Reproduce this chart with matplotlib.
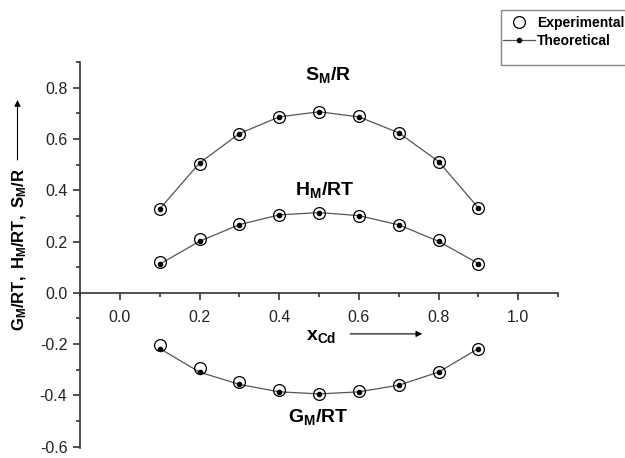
# Funciones de exceso molar frente a fracción molar de Cd
import matplotlib
matplotlib.use('Agg')
import matplotlib.pyplot as plt
from matplotlib.patches import Rectangle
from matplotlib.ticker import MultipleLocator

x_cd = [0.1, 0.2, 0.3, 0.4, 0.5, 0.6, 0.7, 0.8, 0.9]

# S_M/R
s_exp = [0.327, 0.503, 0.619, 0.684, 0.704, 0.689, 0.624, 0.510, 0.331]
s_teo = [0.327, 0.506, 0.621, 0.686, 0.706, 0.686, 0.624, 0.512, 0.331]
# H_M/RT
h_exp = [0.119, 0.210, 0.268, 0.304, 0.313, 0.301, 0.263, 0.207, 0.114]
h_teo = [0.112, 0.201, 0.266, 0.304, 0.313, 0.301, 0.265, 0.201, 0.114]
# G_M/RT
g_exp = [-0.204, -0.292, -0.348, -0.379, -0.394, -0.384, -0.360, -0.309, -0.218]
g_teo = [-0.217, -0.309, -0.357, -0.386, -0.394, -0.386, -0.360, -0.309, -0.217]

plt.rcParams['font.family'] = ['Liberation Sans', 'DejaVu Sans']
plt.rcParams['mathtext.fontset'] = 'custom'
plt.rcParams['mathtext.rm'] = 'Liberation Sans'
plt.rcParams['mathtext.it'] = 'Liberation Sans:italic'
plt.rcParams['mathtext.bf'] = 'Liberation Sans:bold'
plt.rcParams['axes.unicode_minus'] = False

fig = plt.figure(figsize=(6.25, 4.58), dpi=100)
ax = fig.add_axes([0.128, 0.0218, 0.765, 0.8428])

linea = '#555555'
for teo, exp in [(s_teo, s_exp), (h_teo, h_exp), (g_teo, g_exp)]:
    ax.plot(x_cd, teo, color=linea, lw=0.9, marker='o', ms=3,
            mfc='black', mec='black', zorder=3)
    ax.plot(x_cd, exp, ls='none', marker='o', ms=8.5, mfc='none',
            mec='black', mew=0.9, zorder=4)

ax.set_xlim(-0.1, 1.1)
ax.set_ylim(-0.605, 0.9)
ax.spines['top'].set_visible(False)
ax.spines['right'].set_visible(False)
ax.spines['bottom'].set_position(('data', 0))
for s in ['left', 'bottom']:
    ax.spines[s].set_linewidth(1.2)
    ax.spines[s].set_color('#333333')

ax.xaxis.set_minor_locator(MultipleLocator(0.1))
ax.yaxis.set_minor_locator(MultipleLocator(0.1))
ax.set_xticks([0.0, 0.2, 0.4, 0.6, 0.8, 1.0])
ax.set_xticklabels(['0.0', '0.2', '0.4', '0.6', '0.8', '1.0'])
ax.set_yticks([-0.6, -0.4, -0.2, 0.0, 0.2, 0.4, 0.6, 0.8])
ax.set_yticklabels(['-0.6', '-0.4', '-0.2', '0.0', '0.2', '0.4', '0.6', '0.8'])
ax.tick_params(which='major', length=5, width=1.2, color='#333333',
               labelsize=11.5, labelcolor='#222222')
ax.tick_params(which='minor', length=3, width=1.2, color='#333333')
ax.tick_params(axis='x', which='major', pad=7)
ax.tick_params(axis='y', which='major', pad=4)

# Etiquetas de cada curva
ax.text(0.523, 0.85, r'$\mathbf{S_M/R}$', fontsize=14, ha='center', va='center')
ax.text(0.514, 0.40, r'$\mathbf{H_M/RT}$', fontsize=14, ha='center', va='center')
ax.text(0.497, -0.485, r'$\mathbf{G_M/RT}$', fontsize=14, ha='center', va='center')

# Eje x con flecha
ax.text(0.506, -0.172, r'$\mathbf{x_{Cd}}$', fontsize=14, ha='center', va='center')
ax.annotate('', xy=(0.759, -0.16), xytext=(0.578, -0.16),
            arrowprops=dict(arrowstyle='-|>', color='black', lw=0.8,
                            mutation_scale=9, shrinkA=0, shrinkB=0))

# Eje y con flecha
fig.text(0.031, 0.455, r'$\mathbf{G_M/RT,\ H_M/RT,\ S_M/R}$', fontsize=12,
         rotation=90, ha='center', va='center')
ax.annotate('', xy=(0.028, 1 - 100 / 458), xytext=(0.028, 1 - 160 / 458),
            xycoords='figure fraction', textcoords='figure fraction',
            arrowprops=dict(arrowstyle='-|>', color='black', lw=0.8,
                            mutation_scale=9, shrinkA=0, shrinkB=0))

# Leyenda
h1, = ax.plot([], [], ls='none', marker='o', ms=8.5, mfc='none', mec='black', mew=0.9)
h2, = ax.plot([], [], color=linea, lw=0.9, marker='o', ms=3, mfc='black', mec='black')
fig.patches.append(Rectangle((501 / 625, 1 - 65 / 458), 0.3, 55 / 458,
                             transform=fig.transFigure, fill=False,
                             edgecolor='#888888', lw=1.0))
leg = fig.legend([h1, h2], ['Experimental', 'Theoretical'], loc='upper left',
                 bbox_to_anchor=(499 / 625, 1 - 12 / 458), frameon=False,
                 prop={'weight': 'bold', 'size': 10}, handlelength=2.3,
                 handletextpad=0.15, labelspacing=0.25, borderpad=0.3,
                 borderaxespad=0)

fig.savefig('out.png', dpi=100)
